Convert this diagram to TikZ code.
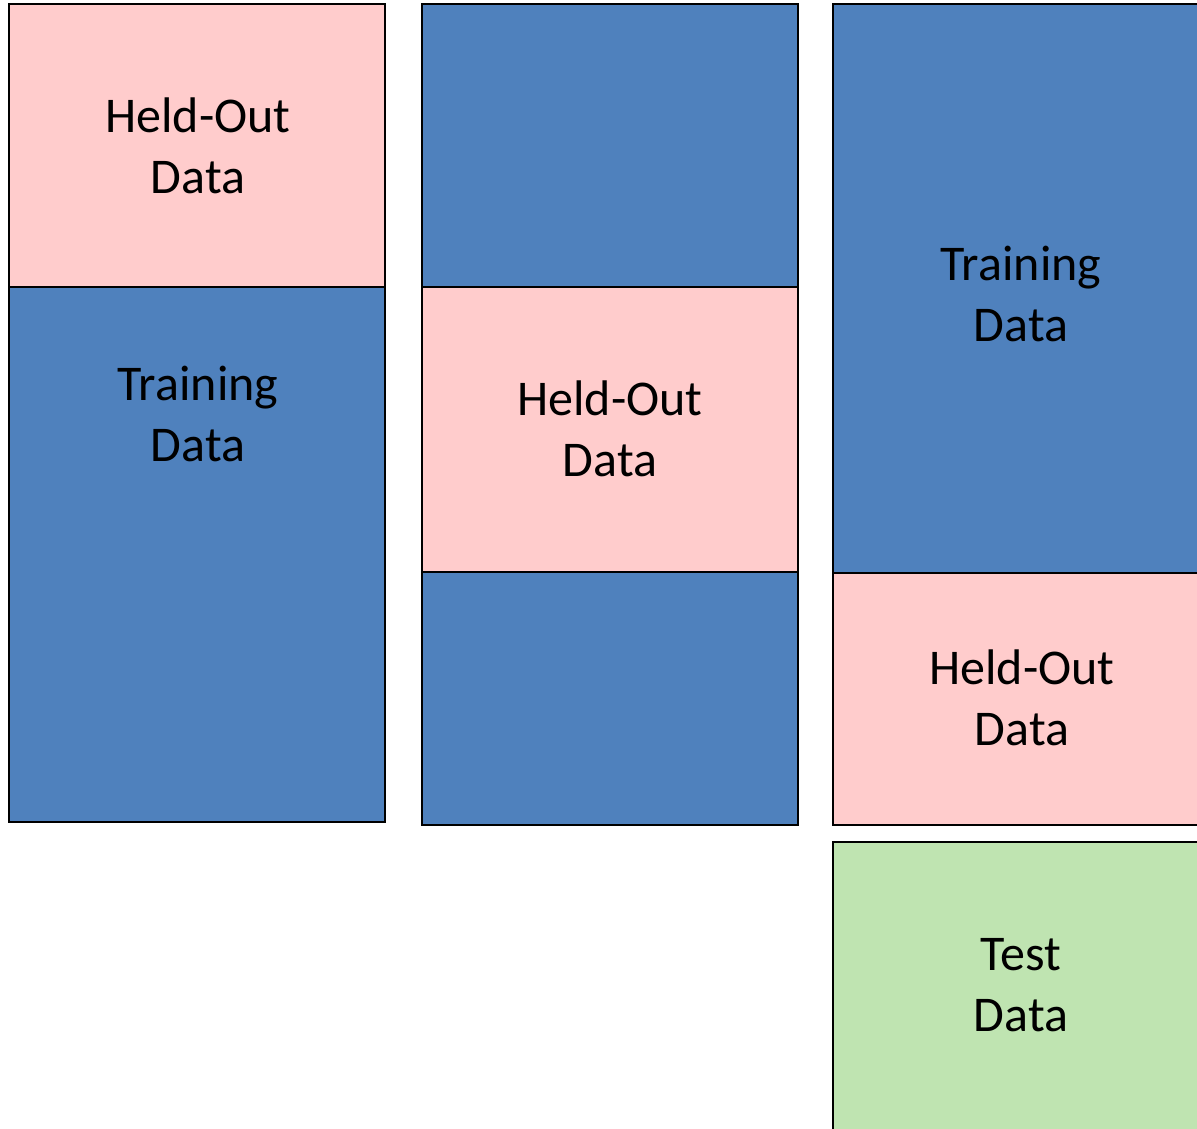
\documentclass[tikz,border=0pt]{standalone}
\usepackage{fontspec}
\setmainfont{Carlito}
\definecolor{trainblue}{HTML}{4F81BD}
\definecolor{heldpink}{HTML}{FFCCCC}
\definecolor{testgreen}{HTML}{BFE4B1}
\begin{document}
\begin{tikzpicture}[x=1pt,y=-1pt,
  blk/.style={draw=black,line width=2.4pt},
  lbl/.style={align=center,font=\fontsize{50}{61}\selectfont,text=black,inner sep=0pt}]
\useasboundingbox (0,0) rectangle (1197,1128);
\begin{scope}
\clip (0,0) rectangle (1197,1128);
% left column
\draw[blk,fill=heldpink] (9,4) rectangle (385,287);
\draw[blk,fill=trainblue] (9,287) rectangle (385,822);
% middle column
\draw[blk,fill=trainblue] (422,4) rectangle (798,287);
\draw[blk,fill=heldpink] (422,287) rectangle (798,572);
\draw[blk,fill=trainblue] (422,572) rectangle (798,825);
% right column
\draw[blk,fill=trainblue] (833,4) rectangle (1211,573);
\draw[blk,fill=heldpink] (833,573) rectangle (1211,825);
\draw[blk,fill=testgreen] (833,842) rectangle (1211,1140);
\end{scope}
\node[lbl] (h1) at (198,146) {Held-Out\\Data};
\node[lbl] (t1) at (198,414) {Training\\Data};
\node[lbl] (h2) at (610,429) {Held-Out\\Data};
\node[lbl] (t3) at (1021,294) {Training\\Data};
\node[lbl] (h3) at (1022,698) {Held-Out\\Data};
\node[lbl] (s3) at (1021,985) {Test\\Data};
\end{tikzpicture}
\end{document}
